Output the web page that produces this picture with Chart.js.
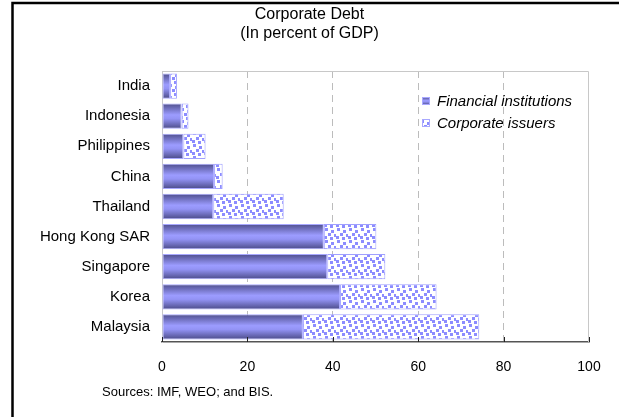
<!DOCTYPE html>
<html>
<head>
<meta charset="utf-8">
<script src="https://cdn.jsdelivr.net/npm/chart.js@4"></script>
<style>
  html, body { margin: 0; padding: 0; background: #fff; }
  #wrap { width: 619px; height: 417px; position: relative; }
</style>
</head>
<body>
<div id="wrap"><canvas id="chart" width="619" height="417"></canvas></div>
<script>
// data (percent of GDP)
const countries = ["India", "Indonesia", "Philippines", "China", "Thailand", "Hong Kong SAR", "Singapore", "Korea", "Malaysia"];
const financialInst = [1.9, 4.6, 5.0, 12.2, 12.0, 37.9, 38.7, 41.7, 33.0];
const corporateIssuers = [1.6, 1.6, 5.2, 2.0, 16.5, 12.3, 13.6, 22.6, 41.3];
const xTicks = [0, 20, 40, 60, 80, 100];
const titleLines = ["Corporate Debt", "(In percent of GDP)"];
const seriesNames = ["Financial institutions", "Corporate issuers"];
const sourceNote = "Sources: IMF, WEO; and BIS.";

const FONT = "'Liberation Sans', Arial, sans-serif";
const canvas = document.getElementById("chart");
const ctx = canvas.getContext("2d");

// dotted fill for corporate issuers
function makeDots() {
  const c = document.createElement("canvas");
  c.width = 12; c.height = 12;
  const g = c.getContext("2d");
  g.fillStyle = "#fff";
  g.fillRect(0, 0, 12, 12);
  g.fillStyle = "#8c8cff";
  const spots = [[1, 0], [7, 2], [4, 5], [10, 6], [0, 8], [6, 9]];
  spots.forEach(function (s) { g.fillRect(s[0], s[1], 3, 3); });
  return ctx.createPattern(c, "repeat");
}
const dots = makeDots();

function barGradient(top, bottom) {
  const gr = ctx.createLinearGradient(0, top, 0, bottom);
  gr.addColorStop(0, "#4e4e8c");
  gr.addColorStop(0.45, "#9c9cff");
  gr.addColorStop(0.6, "#9393f5");
  gr.addColorStop(1, "#4a4a86");
  return gr;
}

// gradient needs each bar's real position; bars share one options object,
// so give every bar its own layer on top of it before drawing
const shadeBars = {
  id: "shadeBars",
  beforeDatasetsDraw(chart) {
    chart.getDatasetMeta(0).data.forEach(function (bar) {
      const h = bar.height / 2;
      const own = Object.create(bar.options);
      own.backgroundColor = barGradient(bar.y - h, bar.y + h);
      bar.options = own;
    });
  },
};

const decorations = {
  id: "decorations",
  beforeDraw(chart) {
    const c = chart.ctx;
    c.save();
    c.fillStyle = "#fff";
    c.fillRect(0, 0, chart.width, chart.height);
    c.restore();
  },
  afterDraw(chart) {
    const c = chart.ctx;
    const a = chart.chartArea;
    const x = chart.scales.x;
    c.save();
    // outer frame (runs off the right and bottom edges)
    c.strokeStyle = "#000";
    c.lineWidth = 2.5;
    c.strokeRect(12.5, 3, 700, 500);

    // top and right plot border
    c.strokeStyle = "#c8c8c8";
    c.lineWidth = 1;
    c.beginPath();
    c.moveTo(a.left, a.top + 0.5);
    c.lineTo(a.right - 0.5, a.top + 0.5);
    c.lineTo(a.right - 0.5, a.bottom);
    c.stroke();

    // inward tick marks on the value axis
    c.strokeStyle = "#222";
    xTicks.forEach(function (v) {
      const px = Math.round(x.getPixelForValue(v)) + 0.5;
      c.beginPath();
      c.moveTo(px, a.bottom - 5);
      c.lineTo(px, a.bottom);
      c.stroke();
    });

    // title
    c.fillStyle = "#000";
    c.font = "16px " + FONT;
    c.textAlign = "center";
    c.textBaseline = "middle";
    c.fillText(titleLines[0], chart.width / 2, 15);
    c.fillText(titleLines[1], chart.width / 2, 34);

    // legend inside plot
    const lx = a.left + 260;
    const ly = [a.top + 30, a.top + 52];
    const fills = [barGradient(ly[0] - 4, ly[0] + 4), dots];
    c.font = "italic 15px " + FONT;
    c.textAlign = "left";
    seriesNames.forEach(function (name, i) {
      c.fillStyle = fills[i];
      c.fillRect(lx, ly[i] - 4, 8, 8);
      c.strokeStyle = "#a8a8ff";
      c.strokeRect(lx + 0.5, ly[i] - 3.5, 7, 7);
      c.fillStyle = "#000";
      c.fillText(name, lx + 15, ly[i] + 1);
    });

    // source line
    c.font = "13px " + FONT;
    c.fillText(sourceNote, 102, 392);
    c.restore();
  },
};

new Chart(canvas, {
  type: "bar",
  data: {
    labels: countries,
    datasets: [
      {
        label: seriesNames[0],
        data: financialInst,
        backgroundColor: "#8080ff",
        borderColor: "#a8a8ff",
        borderWidth: 1,
        borderSkipped: false,
      },
      {
        label: seriesNames[1],
        data: corporateIssuers,
        backgroundColor: dots,
        borderColor: "#a0a0ff",
        borderWidth: 1,
        borderSkipped: false,
      },
    ],
  },
  options: {
    indexAxis: "y",
    responsive: false,
    animation: false,
    devicePixelRatio: 1,
    layout: { padding: { top: 71, right: 30, bottom: 0, left: 0 } },
    datasets: { bar: { barPercentage: 0.84, categoryPercentage: 1 } },
    plugins: {
      legend: { display: false },
      title: { display: false },
      tooltip: { enabled: false },
    },
    scales: {
      x: {
        stacked: true,
        min: 0,
        max: 100,
        afterBuildTicks: function (s) { s.ticks = xTicks.map(function (v) { return { value: v }; }); },
        afterFit: function (s) { s.height = 75; },
        grid: {
          drawTicks: false,
          color: function (c) {
            const v = c.tick ? c.tick.value : 0;
            return v === 0 || v === 100 ? "rgba(0,0,0,0)" : "#bcbcbc";
          },
        },
        border: { color: "#555", width: 1.5, dash: [7, 5] },
        ticks: { color: "#000", font: { family: FONT, size: 14 }, padding: 17 },
      },
      y: {
        stacked: true,
        afterFit: function (s) { s.width = 162; },
        grid: { display: false, drawTicks: false },
        border: { color: "#c8c8c8", width: 1 },
        ticks: { color: "#000", font: { family: FONT, size: 15 }, padding: 12 },
      },
    },
  },
  plugins: [shadeBars, decorations],
});
</script>
</body>
</html>
